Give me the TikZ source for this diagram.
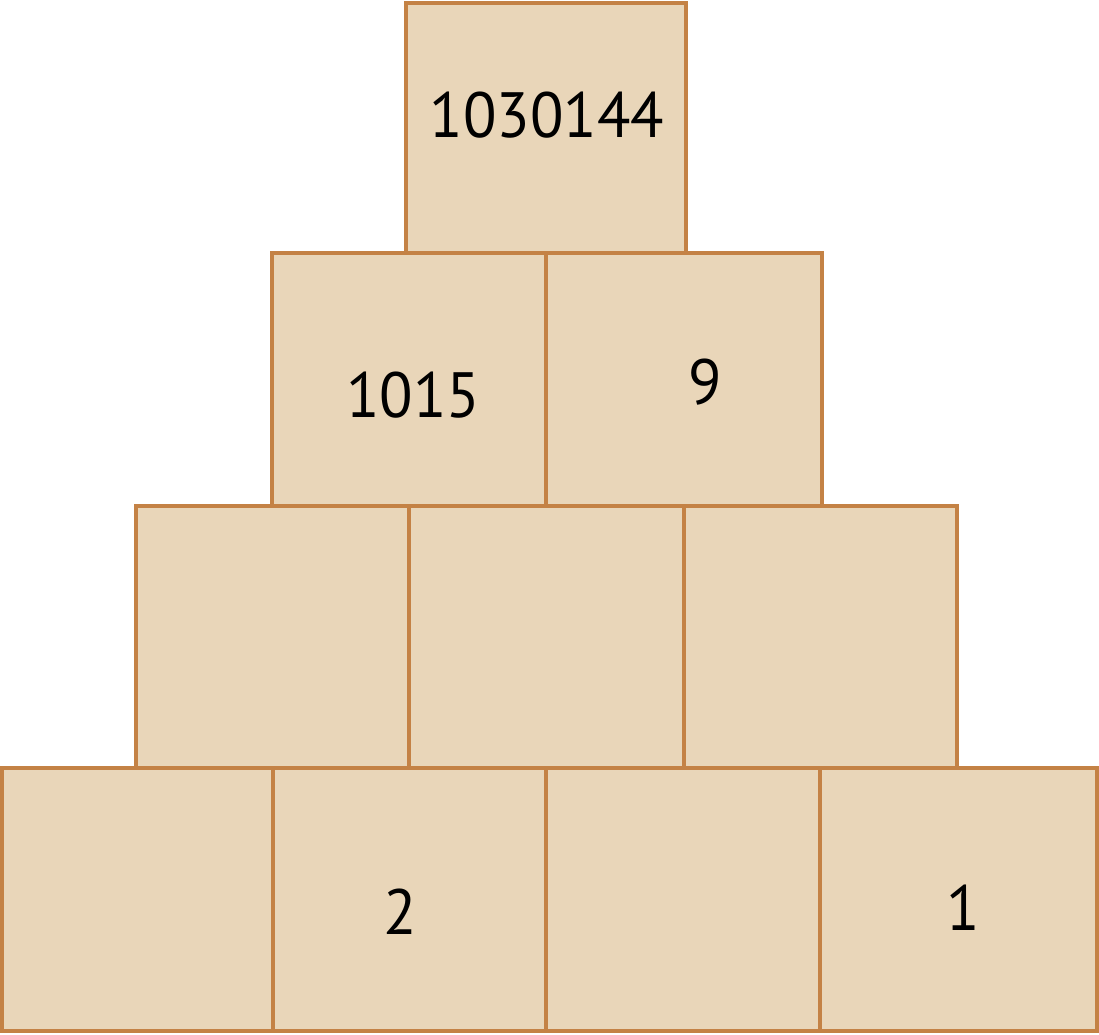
\documentclass[tikz,border=0pt]{standalone}
\usepackage{fontspec}
\setmainfont[FakeStretch=0.96]{PT Sans}
\definecolor{boxfill}{HTML}{E9D6B9}
\definecolor{boxline}{HTML}{C48245}
\begin{document}
\begin{tikzpicture}[x=1pt,y=-1pt,
  cell/.style={draw=boxline,fill=boxfill,line width=3.3pt,inner sep=0pt,outer sep=0pt},
  num/.style={inner sep=0pt,font=\fontsize{64}{70}\selectfont}]
\useasboundingbox (0,0) rectangle (1099,1034);
% row 1
\node[cell,minimum width=280pt,minimum height=250pt] (a1) at (546,128) {};
% row 2
\node[cell,minimum width=274pt,minimum height=253pt] (b1) at (409,379.5) {};
\node[cell,minimum width=276pt,minimum height=253pt] (b2) at (684,379.5) {};
% row 3
\node[cell,minimum width=273pt,minimum height=262pt] (c1) at (272.5,637) {};
\node[cell,minimum width=275pt,minimum height=262pt] (c2) at (546.5,637) {};
\node[cell,minimum width=273pt,minimum height=262pt] (c3) at (820.5,637) {};
% row 4
\node[cell,minimum width=271pt,minimum height=263pt] (d1) at (137.5,899.5) {};
\node[cell,minimum width=273pt,minimum height=263pt] (d2) at (409.5,899.5) {};
\node[cell,minimum width=274pt,minimum height=263pt] (d3) at (683,899.5) {};
\node[cell,minimum width=277pt,minimum height=263pt] (d4) at (958.5,899.5) {};
% numbers
\node[num] (t1) at (547,115) {1030144};
\node[num] (t2) at (413,395) {1015};
\node[num] (t3) at (705,382) {9};
\node[num] (t4) at (400,912) {2};
\node[num] (t5) at (963,908) {1};
\end{tikzpicture}
\end{document}
